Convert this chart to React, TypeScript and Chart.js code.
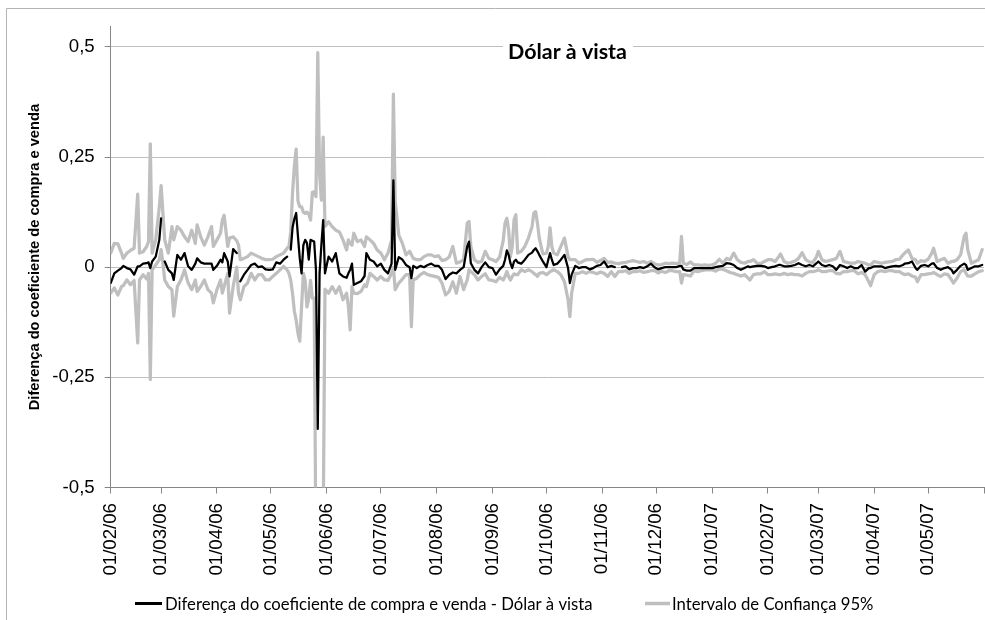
import React, { useEffect, useRef } from 'react';
import { Chart, registerables } from 'chart.js';

Chart.register(...registerables);

// Day offsets counted from 01/02/2006
const days = [
  0, 2, 4, 6, 7, 9, 11, 13, 15, 16,
  18, 20, 21, 22, 23, 25, 27, 28, 29, 30,
  32, 34, 35, 37, 39, 41, 43, 45, 47, 48,
  50, 52, 54, 56, 57, 59, 61, 62, 63, 65,
  66, 68, 70, 71, 72, 74, 76, 78, 80, 82,
  84, 86, 88, 90, 92, 94, 96, 98, 99, 100,
  101, 102, 103, 104, 105, 106, 107, 108, 109, 110,
  111, 112, 113, 114, 115, 116, 117, 118, 119, 121,
  123, 125, 127, 129, 131, 132, 133, 134, 135, 137,
  139, 141, 142, 144, 146, 148, 150, 152, 154, 156,
  157, 158, 160, 162, 164, 166, 167, 168, 170, 172,
  174, 176, 178, 180, 182, 184, 186, 188, 190, 192,
  194, 196, 198, 199, 200, 202, 204, 206, 208, 210,
  212, 214, 216, 218, 219, 220, 221, 222, 223, 224,
  225, 226, 228, 230, 232, 234, 235, 236, 237, 238,
  240, 242, 243, 244, 245, 246, 248, 250, 252, 254,
  255, 256, 258, 260, 262, 264, 266, 268, 270, 272,
  274, 276, 278, 280, 282, 284, 286, 288, 290, 292,
  294, 296, 298, 300, 302, 304, 306, 308, 310, 312,
  314, 316, 317, 318, 320, 322, 324, 326, 328, 330,
  332, 334, 336, 338, 340, 342, 344, 346, 348, 350,
  352, 354, 355, 357, 359, 361, 363, 365, 367, 369,
  371, 372, 374, 376, 378, 380, 382, 384, 386, 388,
  390, 392, 393, 395, 397, 399, 401, 403, 405, 407,
  409, 411, 413, 415, 417, 419, 421, 422, 424, 426,
  428, 430, 432, 434, 436, 438, 440, 441, 443, 445,
  447, 448, 450, 452, 454, 456, 457, 459, 461, 463,
  465, 467, 468, 470, 472, 474, 475, 476, 478, 480,
  482, 484,
];

const diffValues = [
  -0.036, -0.014, -0.008, -0.002, 0.003, -0.002, -0.005, -0.017, 0.002, 0.002,
  0.008, 0.009, 0.011, -0.002, 0.013, 0.024, 0.062, 0.111, null, 0.013,
  -0.006, -0.014, -0.029, 0.028, 0.017, 0.032, 0.002, -0.006, 0.008, 0.020,
  0.011, 0.008, 0.008, 0.008, -0.006, 0.003, 0.017, 0.011, 0.032, 0.013,
  -0.021, 0.041, 0.032, null, -0.032, -0.017, -0.006, 0.005, 0.008, 0.000,
  0.002, -0.005, -0.006, -0.005, 0.011, 0.008, 0.017, 0.024, null, 0.040,
  0.090, 0.110, 0.123, 0.070, 0.020, -0.014, 0.050, 0.062, 0.055, 0.017,
  0.062, 0.060, 0.058, -0.006, -0.367, -0.014, 0.050, 0.107, -0.014, 0.024,
  0.013, 0.032, -0.014, -0.021, -0.024, -0.014, -0.006, 0.008, -0.040, -0.036,
  -0.032, -0.020, 0.032, 0.017, 0.013, 0.002, 0.008, -0.006, -0.014, 0.008,
  0.197, -0.006, 0.023, 0.017, 0.005, 0.000, -0.025, 0.003, -0.002, 0.003,
  0.000, 0.005, 0.008, 0.003, 0.003, -0.006, -0.027, -0.017, -0.012, -0.014,
  -0.006, 0.000, 0.047, 0.058, 0.009, -0.006, -0.014, 0.000, 0.011, 0.000,
  -0.002, -0.017, -0.005, 0.003, 0.017, 0.038, 0.028, 0.009, -0.002, 0.013,
  0.017, 0.011, 0.008, 0.017, 0.028, 0.033, 0.039, 0.043, 0.036, 0.028,
  0.013, 0.000, 0.017, 0.032, 0.017, 0.005, 0.008, 0.017, 0.028, -0.002,
  -0.036, -0.017, 0.003, -0.002, 0.000, 0.000, -0.005, -0.002, 0.003, 0.005,
  0.013, 0.000, 0.003, 0.000, null, 0.000, 0.002, -0.005, -0.002, -0.002,
  0.000, -0.002, 0.002, 0.008, 0.000, -0.005, -0.002, 0.000, 0.000, 0.000,
  0.000, 0.003, 0.003, -0.005, -0.008, -0.008, -0.002, -0.002, -0.002, -0.002,
  -0.002, -0.002, 0.000, 0.002, 0.003, 0.009, 0.008, 0.005, -0.002, -0.006,
  -0.002, 0.002, 0.000, 0.002, 0.003, 0.003, 0.002, -0.002, 0.000, 0.002,
  0.005, 0.005, 0.002, 0.002, 0.003, 0.005, 0.009, 0.005, 0.002, 0.005,
  0.002, 0.009, 0.013, 0.005, 0.002, 0.005, 0.002, -0.006, 0.005, 0.002,
  -0.002, 0.002, -0.002, -0.002, 0.005, -0.010, -0.002, -0.002, 0.002, 0.002,
  0.002, -0.002, 0.000, 0.002, 0.003, 0.002, 0.005, 0.008, 0.009, 0.013,
  -0.002, -0.006, 0.003, 0.005, 0.002, 0.008, 0.009, -0.002, -0.006, -0.002,
  0.000, -0.006, -0.014, -0.006, 0.003, 0.008, 0.005, -0.006, -0.002, 0.002,
  0.002, 0.005,
];

const upperValues = [
  0.032, 0.054, 0.053, 0.032, 0.020, 0.032, 0.038, 0.043, 0.166, 0.032,
  0.035, 0.047, 0.058, 0.280, 0.032, 0.062, 0.137, 0.185, 0.122, 0.062,
  0.032, 0.092, 0.062, 0.092, 0.084, 0.069, 0.058, 0.084, 0.054, 0.096,
  0.069, 0.050, 0.069, 0.092, 0.047, 0.062, 0.077, 0.107, 0.118, 0.047,
  0.066, 0.069, 0.060, 0.050, 0.017, 0.020, 0.024, 0.032, 0.028, 0.024,
  0.020, 0.017, 0.017, 0.018, 0.024, 0.028, 0.032, 0.043, 0.047, 0.080,
  0.170, 0.230, 0.268, 0.150, 0.137, 0.137, 0.125, 0.122, 0.125, 0.120,
  0.107, 0.170, 0.171, 0.160, 0.487, 0.212, 0.152, 0.295, 0.092, 0.103,
  0.092, 0.084, 0.080, 0.062, 0.039, 0.062, 0.054, 0.050, 0.077, 0.058,
  0.062, 0.047, 0.069, 0.062, 0.054, 0.039, 0.032, 0.017, 0.032, 0.062,
  0.393, 0.150, 0.073, 0.054, 0.028, 0.036, 0.028, 0.020, 0.017, 0.017,
  0.024, 0.028, 0.028, 0.024, 0.026, 0.015, 0.017, 0.023, 0.047, 0.009,
  0.012, 0.017, 0.100, 0.104, 0.047, 0.017, 0.011, 0.013, 0.036, 0.020,
  0.017, 0.013, 0.023, 0.061, 0.100, 0.111, 0.085, 0.024, 0.047, 0.107,
  0.119, 0.032, 0.036, 0.047, 0.066, 0.092, 0.123, 0.126, 0.100, 0.066,
  0.030, 0.032, 0.047, 0.089, 0.047, 0.032, 0.028, 0.047, 0.066, 0.024,
  0.017, 0.017, 0.017, 0.009, 0.013, 0.017, 0.017, 0.018, 0.011, 0.015,
  0.020, 0.011, 0.012, 0.009, 0.008, 0.010, 0.011, 0.013, 0.015, 0.013,
  0.011, 0.013, 0.009, 0.013, 0.008, 0.005, 0.006, 0.009, 0.008, 0.009,
  0.008, 0.010, 0.070, 0.009, 0.006, 0.012, 0.005, 0.005, 0.004, 0.005,
  0.004, 0.005, 0.009, 0.018, 0.009, 0.020, 0.017, 0.032, 0.017, 0.011,
  0.009, 0.013, 0.013, 0.017, 0.009, 0.008, 0.013, 0.017, 0.017, 0.013,
  0.024, 0.030, 0.013, 0.009, 0.011, 0.014, 0.020, 0.033, 0.017, 0.012,
  0.011, 0.024, 0.036, 0.017, 0.013, 0.015, 0.017, 0.020, 0.036, 0.013,
  0.011, 0.009, 0.009, 0.013, 0.011, 0.009, 0.005, 0.005, 0.013, 0.011,
  0.009, 0.011, 0.012, 0.013, 0.017, 0.018, 0.028, 0.032, 0.039, 0.020,
  0.017, 0.009, 0.015, 0.013, 0.018, 0.032, 0.043, 0.013, 0.017, 0.020,
  0.009, 0.013, 0.013, 0.017, 0.028, 0.070, 0.077, 0.039, 0.009, 0.013,
  0.017, 0.040,
];

const lowerValues = [
  -0.059, -0.047, -0.063, -0.044, -0.042, -0.029, -0.040, -0.030, -0.172, -0.029,
  -0.017, -0.027, -0.014, -0.255, -0.006, 0.005, 0.017, 0.040, 0.010, -0.029,
  -0.044, -0.051, -0.111, -0.044, -0.029, -0.006, -0.036, -0.051, -0.029, -0.055,
  -0.044, -0.029, -0.051, -0.059, -0.081, -0.051, -0.029, -0.059, -0.044, -0.014,
  -0.104, -0.044, 0.000, -0.060, -0.074, -0.044, -0.036, -0.014, -0.029, -0.017,
  -0.017, -0.029, -0.029, -0.021, -0.014, -0.006, 0.002, -0.006, -0.014, -0.030,
  -0.060, -0.100, -0.120, -0.150, -0.168, -0.090, -0.014, -0.030, -0.090, -0.070,
  -0.030, -0.070, -0.070, -0.650, -1.200, -0.700, -0.600, -0.600, -0.050, -0.059,
  -0.044, -0.059, -0.044, -0.074, -0.059, -0.089, -0.142, -0.044, -0.059, -0.060,
  -0.055, -0.040, -0.044, -0.014, -0.021, -0.029, -0.021, -0.029, -0.030, -0.014,
  0.000, -0.051, -0.036, -0.027, -0.017, -0.017, -0.135, -0.029, -0.025, -0.017,
  -0.012, -0.017, -0.019, -0.021, -0.023, -0.036, -0.063, -0.055, -0.033, -0.059,
  -0.021, -0.051, -0.029, -0.006, -0.010, -0.017, -0.029, -0.021, -0.015, -0.029,
  -0.030, -0.033, -0.023, -0.029, -0.021, -0.010, -0.021, -0.029, -0.021, -0.015,
  -0.017, -0.017, -0.006, -0.010, -0.006, -0.010, -0.014, -0.017, -0.021, -0.014,
  -0.012, -0.017, -0.014, -0.010, -0.008, -0.006, -0.010, -0.017, -0.033, -0.074,
  -0.112, -0.059, -0.014, -0.014, -0.010, -0.014, -0.010, -0.012, -0.015, -0.011,
  -0.014, -0.021, -0.010, -0.021, -0.010, -0.010, -0.008, -0.014, -0.010, -0.010,
  -0.008, -0.012, -0.010, -0.008, -0.008, -0.013, -0.009, -0.012, -0.008, -0.008,
  -0.010, -0.010, -0.036, -0.017, -0.018, -0.020, -0.008, -0.010, -0.008, -0.006,
  -0.006, -0.006, -0.009, -0.004, -0.005, -0.008, -0.012, -0.014, -0.017, -0.020,
  -0.017, -0.025, -0.029, -0.017, -0.015, -0.015, -0.010, -0.017, -0.017, -0.015,
  -0.017, -0.017, -0.014, -0.017, -0.015, -0.017, -0.017, -0.020, -0.014, -0.010,
  -0.010, -0.008, -0.006, -0.010, -0.010, -0.008, -0.008, -0.014, -0.015, -0.010,
  -0.010, -0.008, -0.008, -0.015, -0.012, -0.017, -0.033, -0.042, -0.017, -0.010,
  -0.008, -0.010, -0.008, -0.008, -0.010, -0.010, -0.015, -0.017, -0.015, -0.020,
  -0.023, -0.033, -0.017, -0.017, -0.015, -0.014, -0.012, -0.017, -0.021, -0.015,
  -0.017, -0.029, -0.036, -0.025, -0.010, -0.006, -0.014, -0.020, -0.020, -0.015,
  -0.010, -0.008,
];

const xTickLabels = [
  '01/02/06', '01/03/06', '01/04/06', '01/05/06', '01/06/06', '01/07/06', '01/08/06',
  '01/09/06', '01/10/06', '01/11/06', '01/12/06', '01/01/07', '01/02/07', '01/03/07',
  '01/04/07', '01/05/07',
];
const xAxisEnd = '01/06/07';
const yTickValues = [-0.5, -0.25, 0, 0.25, 0.5];

const chartTitle = 'Dólar à vista';
const yAxisTitle = 'Diferença do coeficiente de compra e venda';
const seriesNames = [
  'Diferença do coeficiente de compra e venda - Dólar à vista',
  'Intervalo de Confiança 95%',
];

const GREY = '#bfbfbf';
const AXIS = '#868686';
const ARIAL = '"Liberation Sans", Arial, sans-serif';
const CALIBRI = 'Lato, "Noto Sans", sans-serif';

function dayOffset(label: string): number {
  const [dd, mm, yy] = label.split('/').map(Number);
  const t0 = Date.UTC(2006, 1, 1);
  return Math.round((Date.UTC(2000 + yy, mm - 1, dd) - t0) / 86400000);
}

function fitSize(ctx: CanvasRenderingContext2D, text: string, weight: string, family: string, base: number, target: number) {
  ctx.font = `${weight} ${base}px ${family}`;
  const w = ctx.measureText(text).width;
  return w > 0 ? (base * target) / w : base;
}

const overlayPlugin = {
  id: 'overlay',
  beforeDraw(chart: any) {
    const ctx = chart.ctx as CanvasRenderingContext2D;
    ctx.save();
    ctx.strokeStyle = '#b4b4b4';
    ctx.lineWidth = 1;
    ctx.beginPath();
    ctx.moveTo(6.5, 620);
    ctx.lineTo(6.5, 8.5);
    ctx.lineTo(985, 8.5);
    ctx.stroke();
    ctx.restore();
  },
  afterDraw(chart: any) {
    const ctx = chart.ctx as CanvasRenderingContext2D;
    ctx.save();
    // Title inside the plot area with a white backing
    const tSize = fitSize(ctx, chartTitle, 'bold', CALIBRI, 24, 119);
    ctx.fillStyle = '#ffffff';
    ctx.fillRect(503, 36, 130, 24);
    ctx.font = `bold ${tSize}px ${CALIBRI}`;
    ctx.fillStyle = '#000000';
    ctx.textAlign = 'left';
    ctx.textBaseline = 'alphabetic';
    ctx.fillText(chartTitle, 508, 59);

    // Legend
    const lSize = fitSize(ctx, seriesNames[0], 'normal', CALIBRI, 18, 428);
    ctx.font = `normal ${lSize}px ${CALIBRI}`;
    ctx.lineCap = 'butt';
    ctx.strokeStyle = '#000000';
    ctx.lineWidth = 3;
    ctx.beginPath();
    ctx.moveTo(135, 603.5);
    ctx.lineTo(162, 603.5);
    ctx.stroke();
    ctx.fillText(seriesNames[0], 165, 610);
    ctx.strokeStyle = GREY;
    ctx.lineWidth = 3.5;
    ctx.beginPath();
    ctx.moveTo(645, 603.5);
    ctx.lineTo(670, 603.5);
    ctx.stroke();
    ctx.fillStyle = '#000000';
    ctx.fillText(seriesNames[1], 672, 610);
    ctx.restore();
  },
};

export default function App() {
  const canvasRef = useRef<HTMLCanvasElement | null>(null);

  useEffect(() => {
    const canvas = canvasRef.current;
    if (!canvas) return;
    const tickOffsets = [...xTickLabels, xAxisEnd].map(dayOffset);
    const endOffset = dayOffset(xAxisEnd);
    const toPoints = (vals: (number | null)[]) => days.map((d, i) => ({ x: d, y: vals[i] }));

    const chart = new Chart(canvas, {
      type: 'line',
      data: {
        datasets: [
          {
            label: seriesNames[0],
            data: toPoints(diffValues),
            borderColor: '#000000',
            borderWidth: 2.25,
            pointRadius: 0,
            tension: 0,
            spanGaps: false,
            borderJoinStyle: 'round',
            borderCapStyle: 'round',
          },
          {
            label: seriesNames[1],
            data: toPoints(upperValues),
            borderColor: GREY,
            borderWidth: 3.25,
            pointRadius: 0,
            tension: 0,
            borderJoinStyle: 'round',
            borderCapStyle: 'round',
          },
          {
            label: seriesNames[1] + ' (inferior)',
            data: toPoints(lowerValues),
            borderColor: GREY,
            borderWidth: 3.25,
            pointRadius: 0,
            tension: 0,
            borderJoinStyle: 'round',
            borderCapStyle: 'round',
          },
        ],
      } as any,
      options: {
        responsive: false,
        animation: false,
        devicePixelRatio: 1,
        layout: { padding: { top: 26.7, right: 1, left: 0, bottom: 0 } },
        plugins: {
          legend: { display: false },
          tooltip: { enabled: false },
          title: { display: false },
        },
        scales: {
          x: {
            type: 'linear',
            min: 0,
            max: endOffset,
            afterBuildTicks: (scale: any) => {
              scale.ticks = tickOffsets.map((v) => ({ value: v }));
            },
            afterFit: (scale: any) => {
              scale.height = 620 - 487.5;
              scale.paddingLeft = 0;
              scale.paddingRight = 0;
            },
            ticks: {
              autoSkip: false,
              minRotation: 90,
              maxRotation: 90,
              padding: 9.5,
              color: '#000000',
              font: { family: ARIAL, size: 18.67 },
              callback: (_v: any, i: number) => (i < xTickLabels.length ? xTickLabels[i] : ''),
            },
            grid: {
              drawOnChartArea: false,
              drawTicks: true,
              tickLength: 6,
              color: AXIS,
              tickColor: AXIS,
            },
            border: { display: true, color: AXIS, width: 1 },
          },
          y: {
            type: 'linear',
            min: -0.5,
            max: 0.5458,
            afterBuildTicks: (scale: any) => {
              scale.ticks = yTickValues.map((v) => ({ value: v }));
            },
            afterFit: (scale: any) => {
              scale.width = 110.7;
              scale.paddingTop = 0;
              scale.paddingBottom = 0;
            },
            ticks: {
              padding: 10,
              color: '#000000',
              font: { family: ARIAL, size: 18.67 },
              callback: (v: any) => (Number(v) === 0 ? '0' : String(v).replace('.', ',')),
            },
            grid: {
              color: GREY,
              lineWidth: 1,
              tickLength: 6,
              tickColor: AXIS,
              drawTicks: true,
            },
            border: { display: true, color: AXIS, width: 1 },
            title: {
              display: true,
              text: yAxisTitle,
              color: '#000000',
              font: { family: ARIAL, size: 14.67, weight: 'bold' },
              padding: { top: 26.6, bottom: 0 },
            },
          },
        },
      } as any,
      plugins: [overlayPlugin],
    });

    return () => chart.destroy();
  }, []);

  return (
    <div style={{ position: 'absolute', left: 0, top: 0, width: 985, height: 620, background: '#ffffff' }}>
      <canvas ref={canvasRef} width={985} height={620} style={{ display: 'block', width: 985, height: 620 }} />
    </div>
  );
}
